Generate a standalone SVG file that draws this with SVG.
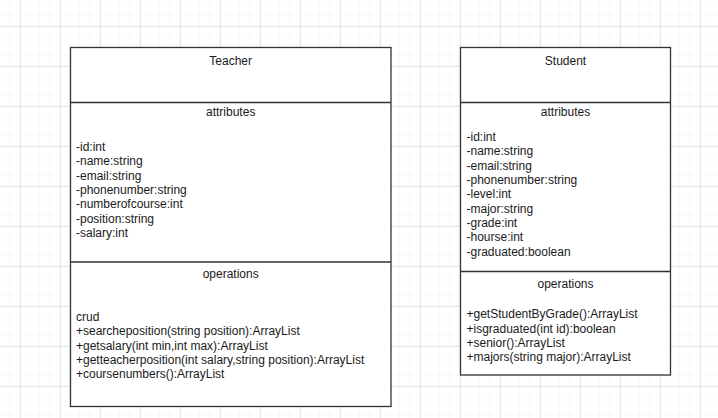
<svg xmlns="http://www.w3.org/2000/svg" width="718" height="418" viewBox="0 0 718 418">
<defs>
<pattern id="minor" x="0" y="6" width="10" height="10" patternUnits="userSpaceOnUse">
<path d="M10 0V10M0 10H10" fill="none" stroke="#f2f2f2" stroke-width="1"/>
</pattern>
<pattern id="major" x="20" y="26" width="40" height="40" patternUnits="userSpaceOnUse">
<path d="M0.5 0V40M0 0.5H40" fill="none" stroke="#e6e6e6" stroke-width="1"/>
</pattern>
</defs>
<style>
.box{fill:#ffffff;stroke:#333333;stroke-width:1.3}
.line{stroke:#333333;stroke-width:1.3;fill:none}
text{font-family:"Liberation Sans",Arial,sans-serif;font-size:12px;fill:#1a1a1a}
.c{text-anchor:middle}
</style>
<rect width="718" height="418" fill="#ffffff"/>
<rect width="718" height="418" fill="url(#minor)"/>
<rect width="718" height="418" fill="url(#major)"/>
<g id="connectors"></g>
<g id="teacher">
<rect class="box" x="70.5" y="47.5" width="320.5" height="359"/>
<line class="line" x1="70.5" y1="102.5" x2="391" y2="102.5"/>
<line class="line" x1="70.5" y1="262" x2="391" y2="262"/>
<text class="c" x="230.7" y="65">Teacher</text>
<text class="c" x="230.7" y="116">attributes</text>
<text x="76" y="151">-id:int</text>
<text x="76" y="165.3">-name:string</text>
<text x="76" y="179.7">-email:string</text>
<text x="76" y="194">-phonenumber:string</text>
<text x="76" y="208.3">-numberofcourse:int</text>
<text x="76" y="222.7">-position:string</text>
<text x="76" y="237">-salary:int</text>
<text class="c" x="230.7" y="278.3">operations</text>
<text x="76" y="321">crud</text>
<text x="76" y="335.3">+searcheposition(string position):ArrayList</text>
<text x="76" y="349.7">+getsalary(int min,int max):ArrayList</text>
<text x="76" y="364">+getteacherposition(int salary,string position):ArrayList</text>
<text x="76" y="378.3">+coursenumbers():ArrayList</text>
</g>
<g id="student">
<rect class="box" x="460.5" y="47.5" width="210" height="327.5"/>
<line class="line" x1="460.5" y1="102.5" x2="670.5" y2="102.5"/>
<line class="line" x1="460.5" y1="271.5" x2="670.5" y2="271.5"/>
<text class="c" x="565.5" y="65">Student</text>
<text class="c" x="565.5" y="116">attributes</text>
<text x="466.5" y="141">-id:int</text>
<text x="466.5" y="155.3">-name:string</text>
<text x="466.5" y="169.7">-email:string</text>
<text x="466.5" y="184">-phonenumber:string</text>
<text x="466.5" y="198.3">-level:int</text>
<text x="466.5" y="212.7">-major:string</text>
<text x="466.5" y="227">-grade:int</text>
<text x="466.5" y="241.3">-hourse:int</text>
<text x="466.5" y="255.7">-graduated:boolean</text>
<text class="c" x="565.5" y="288.3">operations</text>
<text x="466.5" y="318.3">+getStudentByGrade():ArrayList</text>
<text x="466.5" y="332.7">+isgraduated(int id):boolean</text>
<text x="466.5" y="347">+senior():ArrayList</text>
<text x="466.5" y="361.3">+majors(string major):ArrayList</text>
</g>
</svg>
